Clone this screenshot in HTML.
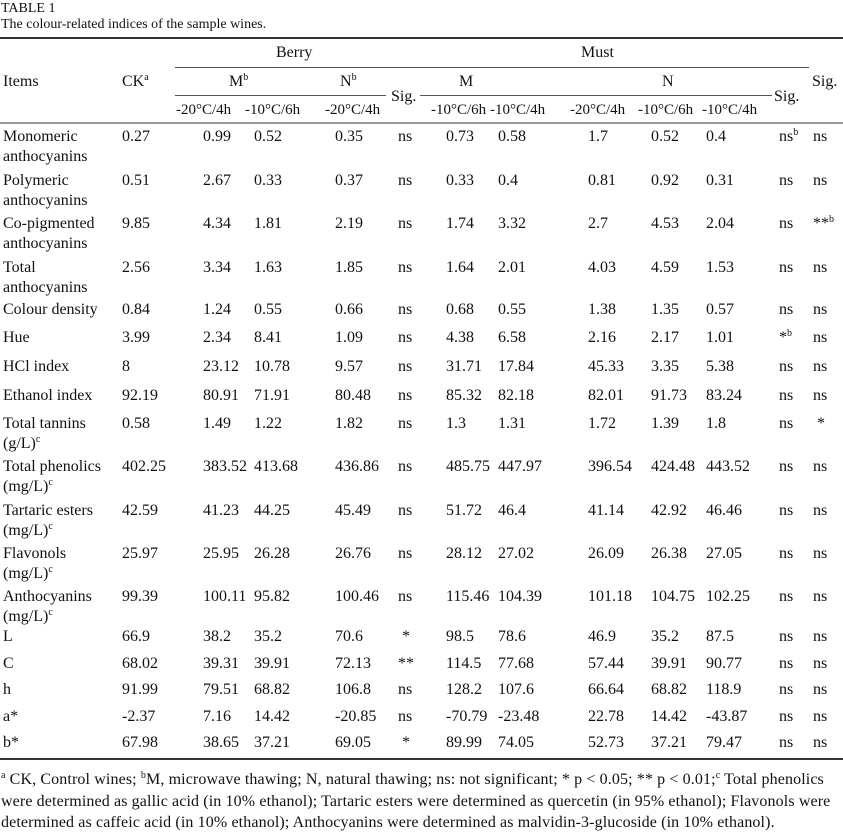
<!DOCTYPE html>
<html><head><meta charset="utf-8">
<style>
body{margin:0;background:#fff;}
#t{position:relative;width:843px;height:832px;font-family:"Liberation Serif",serif;font-size:16px;color:#111;overflow:hidden;}
#t div.c{position:absolute;white-space:nowrap;line-height:18px;}
.ln{position:absolute;}
sup{font-size:10px;vertical-align:6px;line-height:0;}
.fn{letter-spacing:0.12px;}
#t div.sm{font-size:14px;}
#t div.sh{font-size:15px;}
</style></head><body>
<div id="t">
<div class="c sm" style="left:1px;top:0px">TABLE 1</div>
<div class="c sm" style="left:1px;top:16px">The colour-related indices of the sample wines.</div>
<div class="ln" style="left:0;top:37px;width:843px;height:2px;background:#333"></div>
<div class="c" style="left:276px;top:44px">Berry</div>
<div class="c" style="left:581px;top:44px">Must</div>
<div class="ln" style="left:175px;top:67px;width:634px;height:1px;background:#555"></div>
<div class="c" style="left:3px;top:73px">Items</div>
<div class="c" style="left:122px;top:73px">CK<sup>a</sup></div>
<div class="c" style="left:229px;top:73px">M<sup>b</sup></div>
<div class="c" style="left:340px;top:73px">N<sup>b</sup></div>
<div class="c" style="left:459px;top:73px">M</div>
<div class="c" style="left:662px;top:73px">N</div>
<div class="c" style="left:812px;top:73px">Sig.</div>
<div class="ln" style="left:175px;top:95px;width:211px;height:1px;background:#555"></div>
<div class="ln" style="left:420px;top:95px;width:352px;height:1px;background:#555"></div>
<div class="c" style="left:391px;top:88px">Sig.</div>
<div class="c" style="left:774px;top:88px">Sig.</div>
<div class="ln" style="left:0;top:122px;width:843px;height:2px;background:#999"></div>
<div class="ln" style="left:0;top:758px;width:843px;height:2px;background:#333"></div>
<div class="c fn" style="left:1px;top:771px"><sup>a</sup> CK, Control wines; <sup>b</sup>M, microwave thawing; N, natural thawing; ns: not significant; * p &lt; 0.05; ** p &lt; 0.01;<sup>c</sup> Total phenolics</div>
<div class="c fn" style="left:1px;top:793px">were determined as gallic acid (in 10% ethanol); Tartaric esters were determined as quercetin (in 95% ethanol); Flavonols were</div>
<div class="c fn" style="left:1px;top:814px">determined as caffeic acid (in 10% ethanol); Anthocyanins were determined as malvidin-3-glucoside (in 10% ethanol).</div>
</div>
<script>
const subHeaders=["-20°C/4h","-10°C/6h","-20°C/4h","-10°C/6h","-10°C/4h","-20°C/4h","-10°C/6h","-10°C/4h"];
const subX=[176,245,325,431,490,570,638,702];
const colX=[122,203,254,335,398,446,498,588,651,706,779,813];
const labels=[["Monomeric","anthocyanins"],["Polymeric","anthocyanins"],["Co-pigmented","anthocyanins"],["Total","anthocyanins"],["Colour density"],["Hue"],["HCl index"],["Ethanol index"],["Total tannins","(g/L)<sup>c</sup>"],["Total phenolics","(mg/L)<sup>c</sup>"],["Tartaric esters","(mg/L)<sup>c</sup>"],["Flavonols","(mg/L)<sup>c</sup>"],["Anthocyanins","(mg/L)<sup>c</sup>"],["L"],["C"],["h"],["a*"],["b*"]];
const rowY=[137,181,224,268,310,338,367,396,424,467,511,554,597,637,664,690,717,743];
const values=[
["0.27","0.99","0.52","0.35","ns","0.73","0.58","1.7","0.52","0.4","ns<sup>b</sup>","ns"],
["0.51","2.67","0.33","0.37","ns","0.33","0.4","0.81","0.92","0.31","ns","ns"],
["9.85","4.34","1.81","2.19","ns","1.74","3.32","2.7","4.53","2.04","ns","**<sup>b</sup>"],
["2.56","3.34","1.63","1.85","ns","1.64","2.01","4.03","4.59","1.53","ns","ns"],
["0.84","1.24","0.55","0.66","ns","0.68","0.55","1.38","1.35","0.57","ns","ns"],
["3.99","2.34","8.41","1.09","ns","4.38","6.58","2.16","2.17","1.01","*<sup>b</sup>","ns"],
["8","23.12","10.78","9.57","ns","31.71","17.84","45.33","3.35","5.38","ns","ns"],
["92.19","80.91","71.91","80.48","ns","85.32","82.18","82.01","91.73","83.24","ns","ns"],
["0.58","1.49","1.22","1.82","ns","1.3","1.31","1.72","1.39","1.8","ns","&nbsp;*"],
["402.25","383.52","413.68","436.86","ns","485.75","447.97","396.54","424.48","443.52","ns","ns"],
["42.59","41.23","44.25","45.49","ns","51.72","46.4","41.14","42.92","46.46","ns","ns"],
["25.97","25.95","26.28","26.76","ns","28.12","27.02","26.09","26.38","27.05","ns","ns"],
["99.39","100.11","95.82","100.46","ns","115.46","104.39","101.18","104.75","102.25","ns","ns"],
["66.9","38.2","35.2","70.6","&nbsp;*","98.5","78.6","46.9","35.2","87.5","ns","ns"],
["68.02","39.31","39.91","72.13","**","114.5","77.68","57.44","39.91","90.77","ns","ns"],
["91.99","79.51","68.82","106.8","ns","128.2","107.6","66.64","68.82","118.9","ns","ns"],
["-2.37","7.16","14.42","-20.85","ns","-70.79","-23.48","22.78","14.42","-43.87","ns","ns"],
["67.98","38.65","37.21","69.05","&nbsp;*","89.99","74.05","52.73","37.21","79.47","ns","ns"]];
const t=document.getElementById('t');
function cell(x,y,html){const d=document.createElement('div');d.className='c';d.style.left=x+'px';d.style.top=(y-9)+'px';d.innerHTML=html;t.appendChild(d);return d;}
subHeaders.forEach((s,i)=>{const d=cell(subX[i],110,s);
d.classList.add('sh');

});
labels.forEach((lab,r)=>{
lab.forEach((l,k)=>{const d=cell(3,rowY[r]+k*20,l);

});
values[r].forEach((v,c)=>{const d=cell(colX[c],rowY[r],v);

});
});
</script>
</body></html>
